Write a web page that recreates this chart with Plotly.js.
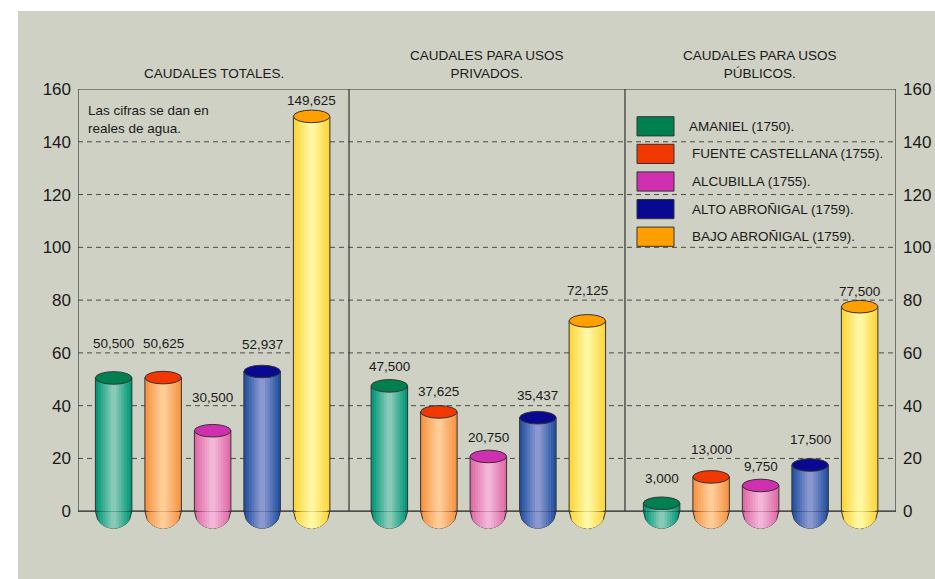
<!DOCTYPE html>
<html>
<head>
<meta charset="utf-8">
<script src="https://cdn.plot.ly/plotly-3.0.1.min.js"></script>
<style>
html,body{margin:0;padding:0;background:#ffffff;}
#chart{position:absolute;left:18px;top:11px;width:917px;height:568px;}
</style>
</head>
<body>
<div id="chart"></div>
<script>
// ---------------- DATA ----------------
const categories = ['CAUDALES TOTALES.', 'CAUDALES PARA USOS<br>PRIVADOS.', 'CAUDALES PARA USOS<br>PÚBLICOS.'];
const seriesNames = ['AMANIEL (1750).', 'FUENTE CASTELLANA (1755).', 'ALCUBILLA (1755).', 'ALTO ABROÑIGAL (1759).', 'BAJO ABROÑIGAL (1759).'];
const amaniel          = [50.5,   47.5,   3.0];
const fuenteCastellana = [50.625, 37.625, 13.0];
const alcubilla        = [30.5,   20.75,  9.75];
const altoAbronigal    = [52.937, 35.437, 17.5];
const bajoAbronigal    = [149.625, 72.125, 77.5];
const yTicks = [0, 20, 40, 60, 80, 100, 120, 140, 160];
const noteText = 'Las cifras se dan en<br>reales de agua.';

// ---------------- STYLE / LAYOUT ----------------
const seriesValues = [amaniel, fuenteCastellana, alcubilla, altoAbronigal, bajoAbronigal];
const topColors  = ['#008050', '#f03800', '#d030b0', '#080890', '#ffa000'];
const edgeColors = ['#009878', '#f79444', '#e06aa8', '#2452a2', '#ffd63a'];
const midColors  = ['#88cab6', '#ffcc98', '#f2b6d6', '#8a98cf', '#fff7a4'];
// label lift (pixels above the bar top), per group then per series
const labelLift = [[34, 34, 33, 27, 16], [19, 20, 19, 22, 30], [25, 27, 19, 26, 15]];

const groupStart = [0.72, 6.29, 11.79];
const dividers = [5.475, 11.05];
const xMax = 16.525;
const barW = 0.737;
const topHalfH = 6.3;   // px
const bottomDepth = 17; // px
const M = {l: 60, r: 39, t: 78, b: 48};
const W = 917, H = 568;
const plotW = W - M.l - M.r, plotH = H - M.t - M.b;
const pageLeft = 18, pageTop = 11;
const px2paperX = px => (px - pageLeft - M.l) / plotW;
const px2paperY = py => (pageTop + M.t + plotH - py) / plotH;
const font = 'Liberation Sans, Arial, sans-serif';

function hex2rgb(h){return [parseInt(h.substr(1,2),16),parseInt(h.substr(3,2),16),parseInt(h.substr(5,2),16)];}
function mix(a,b,t){const A=hex2rgb(a),B=hex2rgb(b);return 'rgb('+A.map((v,i)=>Math.round(v+(B[i]-v)*t)).join(',')+')';}

const bandFr = [1, 0.86, 0.72, 0.58, 0.44, 0.30, 0.16];

// positions of each bar
const xs = [], ys = [], sIdx = [], gIdx = [];
for (let g = 0; g < categories.length; g++) {
  for (let s = 0; s < seriesValues.length; s++) {
    xs.push(groupStart[g] + s);
    ys.push(seriesValues[s][g]);
    sIdx.push(s); gIdx.push(g);
  }
}

const traces = [];
bandFr.forEach((f, i) => {
  const t = i / (bandFr.length - 1);
  traces.push({
    type: 'bar', x: xs, y: ys, width: xs.map(() => barW * f),
    marker: {color: sIdx.map(s => mix(edgeColors[s], midColors[s], t)),
             line: {width: i === 0 ? 1 : 0, color: '#333333'}},
    hoverinfo: 'skip', showlegend: false, yaxis: 'y', xaxis: 'x'
  });
});
// invisible trace to bind the right axis
traces.push({type: 'scatter', x: [0], y: [0], yaxis: 'y2', mode: 'markers', marker: {opacity: 0}, hoverinfo: 'skip', showlegend: false});

const shapes = [];
// dashed grid
yTicks.filter(v => v > 0 && v < 160).forEach(v => shapes.push({type: 'line', xref: 'x', yref: 'y', x0: 0, x1: xMax, y0: v, y1: v, layer: 'below', line: {color: '#4a4a4a', width: 1, dash: '5px,4px'}}));
// frame
shapes.push({type: 'line', xref: 'x', yref: 'y', x0: 0, x1: 0, y0: 0, y1: 160, layer: 'below', line: {color: '#333', width: 1.2}});
shapes.push({type: 'line', xref: 'x', yref: 'y', x0: xMax, x1: xMax, y0: 0, y1: 160, layer: 'below', line: {color: '#333', width: 1.2}});
shapes.push({type: 'line', xref: 'x', yref: 'y', x0: 0, x1: xMax, y0: 160, y1: 160, layer: 'below', line: {color: '#333', width: 1.2}});
shapes.push({type: 'line', xref: 'x', yref: 'y', x0: 0, x1: xMax, y0: 0, y1: 0, layer: 'below', line: {color: '#222', width: 1.2}});
dividers.forEach(d => shapes.push({type: 'line', xref: 'x', yref: 'y', x0: d, x1: d, y0: 0, y1: 160, layer: 'below', line: {color: '#333', width: 1.2}}));

// rounded bottoms (bands following the outer curve)
const R = barW / 2;
xs.forEach((xc, k) => {
  const s = sIdx[k];
  bandFr.forEach((f, i) => {
    const t = i / (bandFr.length - 1);
    const hw = R * f;
    let p = 'M' + (xc - hw) + ',0';
    const n = 16;
    for (let j = 0; j <= n; j++) {
      const dx = -hw + 2 * hw * j / n;
      const yy = -bottomDepth * Math.sqrt(Math.max(0, 1 - (dx / R) * (dx / R)));
      p += ' L' + (xc + dx) + ',' + yy.toFixed(2);
    }
    p += ' L' + (xc + hw) + ',0 Z';
    shapes.push({type: 'path', xref: 'x', yref: 'y', ysizemode: 'pixel', yanchor: 0, path: p, layer: 'below',
      fillcolor: mix(edgeColors[s], midColors[s], t), line: {width: i === 0 ? 1 : 0, color: '#333333'}});
  });
});
// top ellipses
xs.forEach((xc, k) => {
  shapes.push({type: 'circle', xref: 'x', yref: 'y', ysizemode: 'pixel', yanchor: ys[k], y0: -topHalfH, y1: topHalfH,
    x0: xc - R, x1: xc + R, layer: 'above', fillcolor: topColors[sIdx[k]], line: {color: '#333333', width: 1}});
});

const annotations = [];
// value labels
xs.forEach((xc, k) => {
  annotations.push({x: xc, y: ys[k], xref: 'x', yref: 'y', yanchor: 'middle', yshift: labelLift[gIdx[k]][sIdx[k]],
    text: ys[k].toFixed(3).replace('.', ','), showarrow: false, font: {family: font, size: 13.5, color: '#1a1a1a'}});
});
// panel titles
const panelEdges = [0, dividers[0], dividers[1], xMax];
categories.forEach((c, g) => {
  annotations.push({x: (panelEdges[g] + panelEdges[g + 1]) / 2, y: px2paperY(83), xref: 'x', yref: 'paper', yanchor: 'bottom',
    text: c, showarrow: false, font: {family: font, size: 13.5, color: '#1a1a1a'}});
});
// note
annotations.push({x: px2paperX(86), y: px2paperY(119), xref: 'paper', yref: 'paper', xanchor: 'left', yanchor: 'middle', align: 'left',
  text: noteText, showarrow: false, font: {family: font, size: 13.5, color: '#1a1a1a'}});
// legend
const rowY0 = 126.3, rowStep = 27.6;
seriesNames.forEach((nm, s) => {
  const cy = rowY0 + s * rowStep;
  shapes.push({type: 'rect', xref: 'paper', yref: 'paper', x0: px2paperX(637), x1: px2paperX(674), y0: px2paperY(cy + 9.6), y1: px2paperY(cy - 9.6),
    fillcolor: topColors[s], line: {color: '#333', width: 1}, layer: 'above'});
  annotations.push({x: px2paperX(s === 0 ? 687 : 690), y: px2paperY(cy), xref: 'paper', yref: 'paper', xanchor: 'left', yanchor: 'middle',
    text: nm, showarrow: false, font: {family: font, size: 13.5, color: '#1a1a1a'}});
});

const axisY = {range: [-7.5, 160], tickvals: yTicks, ticktext: yTicks.map(String), showgrid: false, zeroline: false, showline: false,
  ticks: '', ticklabelstandoff: 6, tickfont: {family: font, size: 17, color: '#1a1a1a'}, fixedrange: true};

const layout = {
  width: W, height: H, margin: M,
  paper_bgcolor: '#cfd1c4', plot_bgcolor: 'rgba(0,0,0,0)',
  barmode: 'overlay', showlegend: false,
  xaxis: {range: [0, xMax], showgrid: false, zeroline: false, showline: false, showticklabels: false, ticks: '', fixedrange: true},
  yaxis: Object.assign({}, axisY, {side: 'left'}),
  yaxis2: Object.assign({}, axisY, {side: 'right', overlaying: 'y'}),
  shapes: shapes, annotations: annotations
};

Plotly.newPlot('chart', traces, layout, {displayModeBar: false, staticPlot: true});
</script>
</body>
</html>
